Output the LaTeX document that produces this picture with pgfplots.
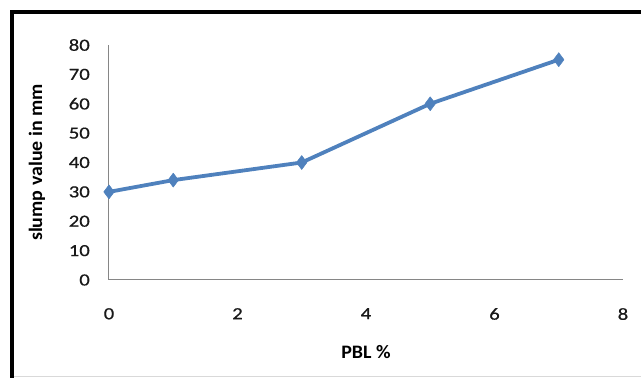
\documentclass[border=0pt]{standalone}
\usepackage{pgfplots}
\pgfplotsset{compat=1.18}
\usepackage{fontspec}
\setmainfont{Carlito}
\newfontfamily\tickfont[FakeStretch=1.22,FakeBold=0.6]{Carlito}
\newfontfamily\labelfont[FakeStretch=1.05]{Carlito}
\definecolor{serieblue}{RGB}{79,129,189}
\definecolor{axisgray}{RGB}{134,134,134}
\definecolor{ticktext}{RGB}{25,25,25}
\begin{document}
\begin{tikzpicture}[x=1pt,y=1pt]
  \path[use as bounding box] (0,0) rectangle (641,378);
  % frame around the chart area
  \draw[line width=4pt,black] (12,0) -- (12,366) -- (645,366);
  \draw[line width=0.8pt,black!15] (14,1.5) -- (641,1.5);
  \begin{axis}[
    at={(109pt,98pt)}, anchor=south west,
    scale only axis,
    width=514pt, height=235pt,
    xmin=0, xmax=8, ymin=0, ymax=80,
    xtick={0,2,4,6,8},
    ytick={0,10,20,30,40,50,60,70,80},
    axis x line*=bottom, axis y line*=left,
    axis line style={axisgray, line width=1pt, -},
    major tick length=0pt,
    /pgf/number format/assume math mode=true,
    tick label style={font=\tickfont\fontsize{17}{19}\selectfont, text=ticktext},
    yticklabel style={inner sep=0pt, anchor=east, xshift=-19pt},
    xticklabel style={inner sep=0pt, anchor=north, yshift=-28pt},
    xlabel={\textbf{PBL \%}},
    ylabel={\textbf{slump value in mm}},
    label style={font=\labelfont\fontsize{19}{21}\selectfont},
    xlabel style={at={(axis description cs:0.5,-0.306)}, anchor=center},
    ylabel style={at={(axis description cs:-0.14,0.5)}, anchor=center, rotate=0},
    clip=false,
  ]
    \addplot[serieblue, line width=3.8pt, line join=round, mark=diamond*, mark size=7pt,
             mark options={solid, fill=serieblue, draw=serieblue, line width=0.5pt}]
      coordinates {(0,30) (1,34) (3,40) (5,60) (7,75)};
  \end{axis}
\end{tikzpicture}
\end{document}
